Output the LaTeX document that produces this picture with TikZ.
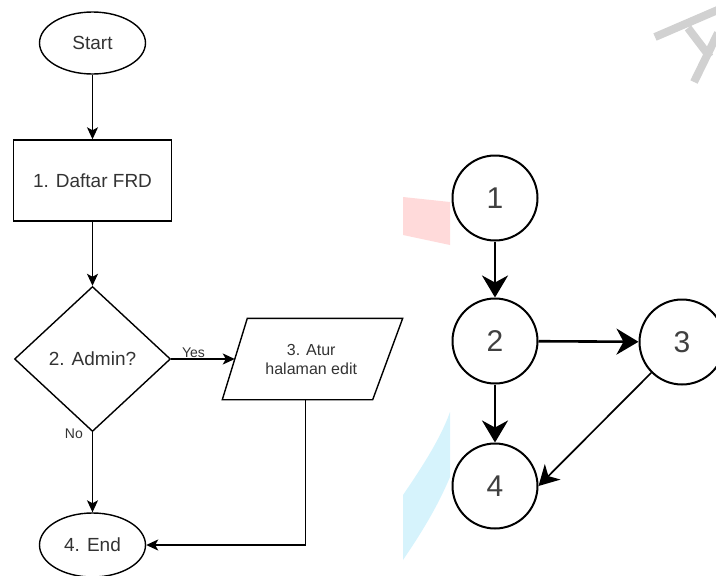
\documentclass[tikz,border=0pt]{standalone}
\usepackage{fontspec}
\setmainfont{Liberation Sans}
\usetikzlibrary{arrows.meta}
\usetikzlibrary{shapes.geometric}

\definecolor{markpink}{RGB}{255,218,218}
\definecolor{markblue}{RGB}{214,243,252}

\tikzset{
	flow/.style={draw, line width=1.4pt, text=black!80, inner sep=0pt, font=\fontsize{19}{22}\selectfont},
	flowarrow/.style={-{Stealth[length=12pt,width=11pt,inset=3pt]}, line width=1.4pt},
	lbl/.style={text=black!80, inner sep=1pt, font=\fontsize{14}{16}\selectfont},
	vertex/.style={circle, draw, line width=2pt, minimum size=85pt, inner sep=0pt, text=black!75, font=\fontsize{30}{32}\selectfont},
	edgearrow/.style={-{Stealth[length=22pt,width=26pt,inset=7pt]}, line width=2.6pt}
}

\begin{document}
\begin{tikzpicture}[x=1pt,y=-1pt]
		\useasboundingbox (0,0) rectangle (716,576);
		% faint marks behind the graph
		\fill[markpink] (403,197) -- (450,202) -- (450,245) -- (403,235) -- cycle;
		\fill[markblue] (450,412) -- (450,477) .. controls (437,508) and (420,535) .. (403,560) -- (403,495) .. controls (420,470) and (440,440) .. (450,412) -- cycle;
		\draw[black!18, line width=8pt] (655,37) -- (720,9) (688,28) -- (710,57) (718,33) -- (694,82);
		
		% flowchart
		\node[flow, ellipse, minimum width=106pt, minimum height=62pt] (start) at (92.5,43) {Start};
		\node[flow, rectangle, minimum width=158pt, minimum height=81pt] (daftar) at (92.5,180.5) {1. Daftar FRD};
		\node[flow, diamond, minimum width=156pt, minimum height=145pt] (admin) at (92.5,359) {2. Admin?};
		\node[flow, draw=none, rectangle, minimum width=151.5pt, minimum height=80pt, align=center, font=\fontsize{16}{19}\selectfont] (atur) at (311.25,359) {3. Atur\\halaman edit};
		\draw[line width=1.4pt] ([xshift=12.5pt]atur.north west) -- ([xshift=15pt]atur.north east) -- ([xshift=-15pt]atur.south east) -- ([xshift=-12.5pt]atur.south west) -- cycle;
		\node[flow, ellipse, minimum width=106pt, minimum height=64pt] (end) at (92.5,545) {4. End};
		
		\draw[flowarrow] (start) -- (daftar);
		\draw[flowarrow] (daftar) -- (admin);
		\draw[flowarrow] (admin.east) -- node[lbl, pos=0.35, above] {Yes} (atur.west);
		\draw[flowarrow] (admin.south) -- node[lbl, pos=0.02, left=8pt] {No} (end.north);
		\draw[flowarrow] ([xshift=-6pt]atur.south) |- (end.east);
		
		% flow graph
		\node[vertex] (n1) at (495,198) {1};
		\node[vertex] (n2) at (495,341) {2};
		\node[vertex] (n3) at (682,342) {3};
		\node[vertex] (n4) at (495,486) {4};
		
		\draw[edgearrow] (n1) -- (n2);
		\draw[edgearrow] (n2) -- (n3);
		\draw[edgearrow] (n2) -- (n4);
		\draw[-{Stealth[length=20pt,width=22pt,inset=6pt]}, line width=1.7pt] (n3.225) -- (n4.east);
		
\end{tikzpicture}
\end{document}
